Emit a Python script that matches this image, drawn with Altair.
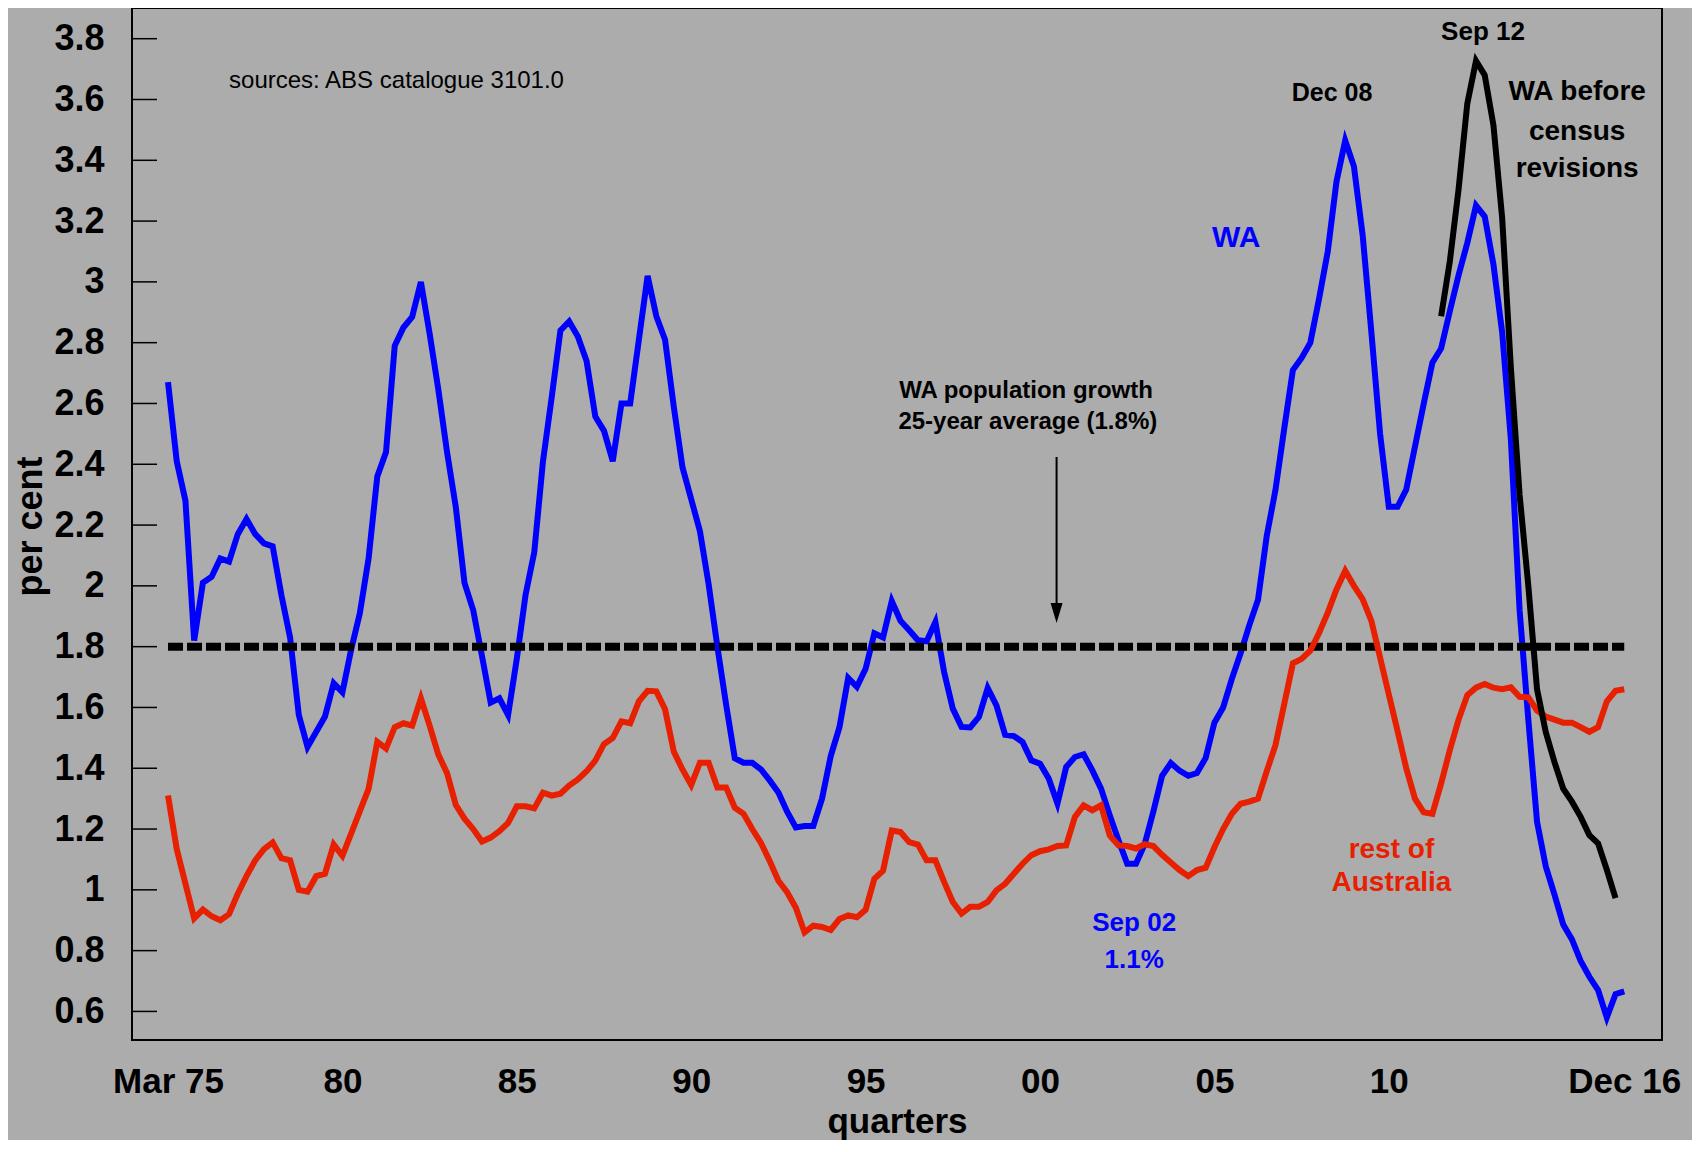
import altair as alt
import pandas as pd

# ---------------- data (quarterly, index 0 = Mar 75, 167 = Dec 16) ----------------
wa = [
    2.67, 2.41, 2.28, 1.82, 2.01, 2.03, 2.09, 2.08, 2.17, 2.22,
    2.17, 2.14, 2.13, 1.97, 1.83, 1.575, 1.47, 1.52, 1.57, 1.68,
    1.65, 1.79, 1.91, 2.09, 2.36, 2.44, 2.79, 2.85, 2.885, 3.0,
    2.83, 2.646, 2.44, 2.26, 2.01, 1.92, 1.77, 1.616, 1.63, 1.575,
    1.76, 1.97, 2.11, 2.41, 2.62, 2.84, 2.87, 2.82, 2.74, 2.557,
    2.51, 2.41, 2.6, 2.6, 2.81, 3.02, 2.887, 2.81, 2.59, 2.39,
    2.285, 2.18, 2.005, 1.8, 1.61, 1.433, 1.418, 1.418, 1.396, 1.36,
    1.32, 1.257, 1.205, 1.21, 1.21, 1.30, 1.44, 1.535, 1.697, 1.668,
    1.727, 1.844, 1.83, 1.95, 1.885, 1.854, 1.821, 1.818, 1.881, 1.717,
    1.596, 1.536, 1.534, 1.569, 1.664, 1.607, 1.51, 1.506, 1.486, 1.426,
    1.415, 1.366, 1.284, 1.404, 1.437, 1.446, 1.393, 1.333, 1.245, 1.163,
    1.086, 1.086, 1.15, 1.258, 1.375, 1.417, 1.392, 1.375, 1.384, 1.434,
    1.55, 1.6, 1.694, 1.778, 1.87, 1.954, 2.164, 2.315, 2.516, 2.71,
    2.75, 2.80, 2.944, 3.10, 3.33, 3.465, 3.38, 3.154, 2.835, 2.5,
    2.26, 2.26, 2.317, 2.458, 2.599, 2.734, 2.781, 2.904, 3.022, 3.128,
    3.251, 3.215, 3.057, 2.834, 2.481, 1.92, 1.56, 1.224, 1.077, 0.984,
    0.886, 0.837, 0.766, 0.714, 0.67, 0.58, 0.657, 0.666,
]

rest_of_australia = [
    1.31, 1.134, 1.02, 0.906, 0.935, 0.913, 0.90, 0.92, 0.987, 1.045,
    1.097, 1.134, 1.156, 1.104, 1.097, 1.0, 0.994, 1.045, 1.053, 1.149,
    1.112, 1.185, 1.259, 1.332, 1.487, 1.465, 1.535, 1.548, 1.54, 1.63,
    1.54, 1.445, 1.384, 1.28, 1.234, 1.2, 1.159, 1.172, 1.193, 1.22,
    1.275, 1.275, 1.268, 1.32, 1.31, 1.316, 1.343, 1.363, 1.39, 1.425,
    1.48, 1.5, 1.554, 1.548, 1.62, 1.655, 1.653, 1.594, 1.455, 1.396,
    1.345, 1.418, 1.418, 1.337, 1.337, 1.27, 1.25, 1.2, 1.154, 1.095,
    1.03, 0.992, 0.941, 0.86, 0.882, 0.878, 0.868, 0.904, 0.916, 0.91,
    0.934, 1.036, 1.063, 1.195, 1.19, 1.157, 1.149, 1.097, 1.097, 1.026,
    0.96, 0.922, 0.944, 0.944, 0.96, 0.998, 1.02, 1.053, 1.086, 1.114,
    1.127, 1.133, 1.144, 1.146, 1.24, 1.278, 1.262, 1.278, 1.179, 1.146,
    1.144, 1.136, 1.15, 1.144, 1.115, 1.09, 1.065, 1.045, 1.065, 1.073,
    1.14, 1.2, 1.25, 1.283, 1.29, 1.3, 1.39, 1.476, 1.61, 1.745,
    1.76, 1.787, 1.845, 1.912, 1.988, 2.05, 2.0, 1.956, 1.885, 1.764,
    1.643, 1.523, 1.40, 1.30, 1.255, 1.25, 1.35, 1.46, 1.56, 1.64,
    1.665, 1.677, 1.665, 1.66, 1.666, 1.635, 1.633, 1.59, 1.57, 1.56,
    1.55, 1.55, 1.535, 1.52, 1.535, 1.62, 1.655, 1.66,
]

wa_before_revisions_start = 146   # Jun 11
wa_before_revisions = [
    2.887, 3.068, 3.304, 3.586, 3.727, 3.68, 3.515, 3.21, 2.717, 2.30,
    2.0, 1.66, 1.519, 1.42, 1.333, 1.29, 1.24, 1.18, 1.153, 1.066, 0.973,
]

average_value = 1.8
average_span = [0, 167]

x_tick_values = [0, 20, 40, 60, 80, 100, 120, 140, 167]
x_tick_labels = ["Mar 75", "80", "85", "90", "95", "00", "05", "10", "Dec 16"]
y_tick_values = [0.6, 0.8, 1.0, 1.2, 1.4, 1.6, 1.8, 2.0, 2.2, 2.4, 2.6, 2.8,
                 3.0, 3.2, 3.4, 3.6, 3.8]

arrow_x = [101.9]
arrow_top = [2.424]
arrow_base = [1.93]
arrow_tip = [1.878]

ann_text = ["WA population growth", "25-year average (1.8%)", "WA",
            "Dec 08", "Sep 12", "WA before", "census", "revisions",
            "rest of", "Australia", "Sep 02", "1.1%"]
ann_x = [98.4, 98.6, 122.5, 133.5, 150.8, 161.6, 161.6, 161.6,
         140.3, 140.3, 110.8, 110.8]
ann_y = [2.618, 2.516, 3.115, 3.595, 3.797, 3.597, 3.468, 3.345,
         1.105, 0.996, 0.865, 0.742]
ann_color = ["#000000", "#000000", "#0000FF", "#000000", "#000000",
             "#000000", "#000000", "#000000", "#E62000", "#E62000",
             "#0000FF", "#0000FF"]
ann_size = [24, 24, 30, 25, 26, 28, 28, 28, 28, 28, 26, 26]

source_text = ["sources: ABS catalogue 3101.0"]
source_x = [7.0]
source_y = [3.661]

# ---------------- frames ----------------
wa_df = pd.DataFrame({"q": list(range(len(wa))), "v": wa})
rest_df = pd.DataFrame({"q": list(range(len(rest_of_australia))), "v": rest_of_australia})
old_df = pd.DataFrame({"q": [wa_before_revisions_start + i for i in range(len(wa_before_revisions))],
                       "v": wa_before_revisions})
avg_df = pd.DataFrame({"q": average_span, "v": [average_value] * len(average_span)})
ytick_df = pd.DataFrame({"v": y_tick_values})
arrow_df = pd.DataFrame({"q": arrow_x, "v": arrow_top, "v2": arrow_base, "tip": arrow_tip})
ann_df = pd.DataFrame({"q": ann_x, "v": ann_y, "t": ann_text, "c": ann_color, "s": ann_size})
src_df = pd.DataFrame({"q": source_x, "v": source_y, "t": source_text})

X_DOMAIN = [-4.13, 171.33]
Y_DOMAIN = [0.506, 3.901]
FONT = "Liberation Sans"

xs = alt.Scale(domain=X_DOMAIN, nice=False, zero=False)
ys = alt.Scale(domain=Y_DOMAIN, nice=False, zero=False)

label_expr = ("[" + ",".join("'" + s + "'" for s in x_tick_labels) + "][indexof(["
              + ",".join(str(v) for v in x_tick_values) + "], datum.value)]")

x_axis = alt.Axis(values=x_tick_values, labelExpr=label_expr, labelFont=FONT,
                  labelFontSize=35, labelFontWeight="bold", labelColor="black",
                  ticks=False, tickSize=0, domain=False, grid=False, labelPadding=24,
                  labelFlush=False, labelOverlap=False, title="quarters",
                  titleFont=FONT, titleFontSize=35, titleFontWeight="bold",
                  titleColor="black", titleX=765, titleY=92,
                  titleBaseline="alphabetic", titleAlign="center")
y_axis = alt.Axis(values=y_tick_values, format="~g", labelFont=FONT,
                  labelFontSize=36, labelFontWeight="bold", labelColor="black",
                  ticks=False, tickSize=0, domain=False, grid=False, labelPadding=28,
                  labelFlush=False, labelOverlap=False, title="per cent",
                  titleFont=FONT, titleFontSize=36, titleFontWeight="bold",
                  titleColor="black", titleAngle=270, titleX=-91, titleY=518,
                  titleBaseline="alphabetic", titleAlign="center")


def X(field="q"):
    return alt.X(f"{field}:Q", scale=xs, title="quarters")


def Y(field="v"):
    return alt.Y(f"{field}:Q", scale=ys, title="per cent")


ticks = alt.Chart(ytick_df).mark_rule(color="black", strokeWidth=1.5).encode(
    y=Y(), x=alt.value(0), x2=alt.value(25))

avg_line = alt.Chart(avg_df).mark_line(color="black", strokeWidth=8,
                                       strokeDash=[15, 4]).encode(x=X(), y=Y())

red_line = alt.Chart(rest_df).mark_line(color="#E62000", strokeWidth=6).encode(
    x=X(), y=Y())

blue_line = alt.Chart(wa_df).mark_line(color="#0000FF", strokeWidth=6).encode(
    x=alt.X("q:Q", scale=xs, axis=x_axis),
    y=alt.Y("v:Q", scale=ys, axis=y_axis))

black_line = alt.Chart(old_df).mark_line(color="black", strokeWidth=6).encode(
    x=X(), y=Y())

arrow_rule = alt.Chart(arrow_df).mark_rule(color="black", strokeWidth=2).encode(
    x=X(), y=Y("v"), y2="v2:Q")
arrow_head = alt.Chart(arrow_df).mark_point(
    shape="M-0.6,-2L0.6,-2L0,0Z", size=400, filled=True, color="black",
    opacity=1, strokeWidth=0).encode(x=X(), y=Y("tip"))

ann = alt.Chart(ann_df).mark_text(font=FONT, fontWeight="bold", align="center",
                                  baseline="alphabetic").encode(
    x=X(), y=Y(), text="t:N",
    color=alt.Color("c:N", scale=None),
    size=alt.Size("s:Q", scale=None))

src = alt.Chart(src_df).mark_text(font=FONT, fontSize=24, align="left",
                                  baseline="middle", color="black").encode(
    x=X(), y=Y(), text="t:N")

chart = alt.layer(
    blue_line, ticks, avg_line, red_line, black_line, arrow_rule, arrow_head, ann, src
).properties(
    width=1530, height=1032,
    autosize=alt.AutoSizeParams(type="none"),
    padding={"left": 124, "top": 0, "right": 30, "bottom": 100},
).configure(
    background="#acacac",
).configure_view(
    stroke="black", strokeWidth=2, fill=None,
)

chart.save("out.html", embed_options={"renderer": "svg", "actions": False})
